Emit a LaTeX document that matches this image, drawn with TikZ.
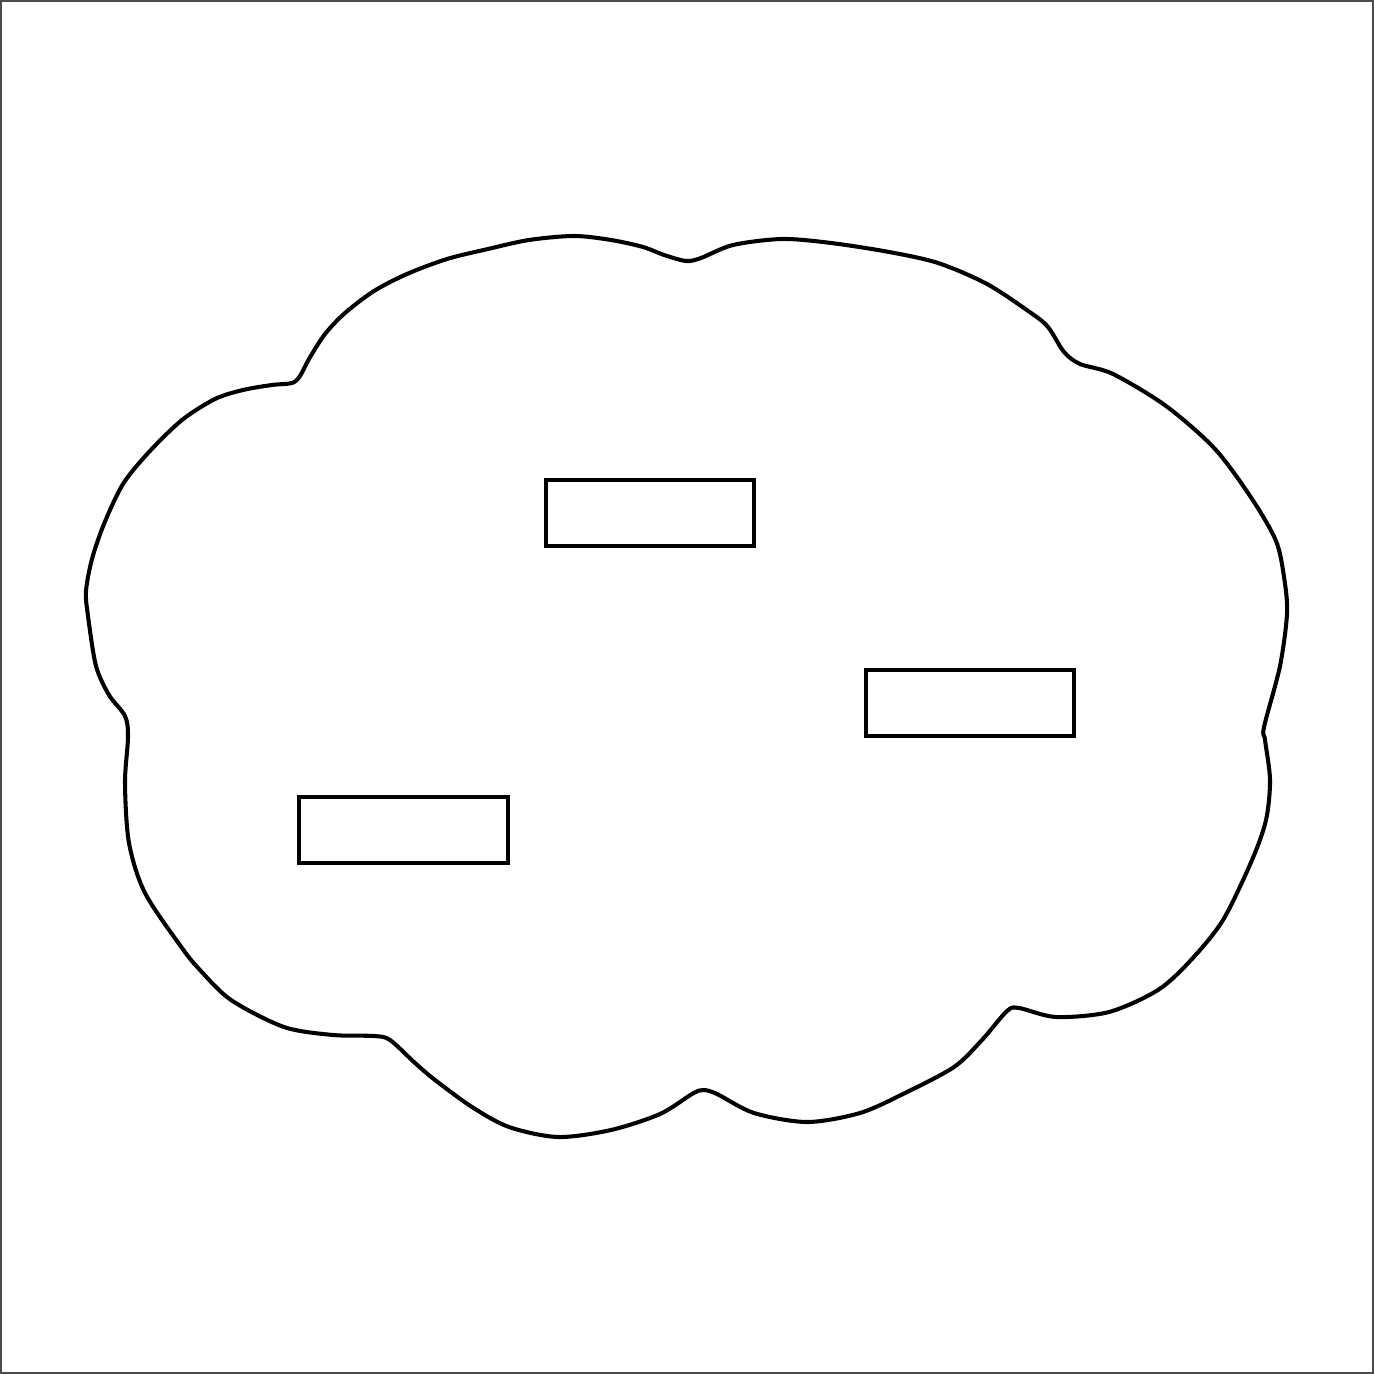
\documentclass[tikz,border=0pt]{standalone}
\begin{document}
\begin{tikzpicture}[x=0.01cm,y=-0.01cm,
  outline/.style={draw=black,line width=1.15pt,line join=round},
  box/.style={draw=black,line width=1.15pt,rectangle,minimum width=2.08cm,minimum height=0.66cm,inner sep=0pt,fill=white}]
\useasboundingbox (0,0) rectangle (1374,1374);
\draw[black!70,line width=0.5pt] (1,1) rectangle (1373,1373);
% cloud
\draw[outline] plot[smooth cycle,tension=0.5] coordinates {
(686,261) (701,258) (733,245) (782,239) (831,243) (889,252) (938,263) (987,284) (1031,313) (1048,327) (1064,352) (1080,364)
(1113,374) (1166,406) (1215,449) (1252,499) (1276,541) (1284,577) (1287,613) (1280,666) (1264,727)
(1265,740) (1270,780) (1266,820) (1252,860) (1223,920) (1191,960) (1158,990) (1109,1012) (1056,1017) (1019,1008) (1007,1011)
(982,1040) (954,1067) (905,1093) (860,1113) (807,1122) (754,1113) (717,1094) (703,1090)
(692,1094) (660,1114) (611,1130) (558,1137) (509,1127) (472,1107) (435,1080) (415,1063) (390,1040) (374,1036)
(333,1035) (284,1027) (231,1000) (200,970) (182,948) (145,893) (129,843) (125,783) (128,737)
(125,716) (109,695) (96,666) (88,616) (86,591) (92,559) (104,524) (123,484) (149,452) (182,420) (215,399) (243,390) (272,385) (292,383)
(300,376) (309,359) (325,334) (345,313) (374,291) (407,274) (447,259) (488,249) (529,240) (574,236) (611,240) (643,247) (664,255)
};
\node[box] (b1) at (650,513) {};
\node[box] (b2) at (970,703) {};
\node[box] (b3) at (403.5,830) {};
\end{tikzpicture}
\end{document}
